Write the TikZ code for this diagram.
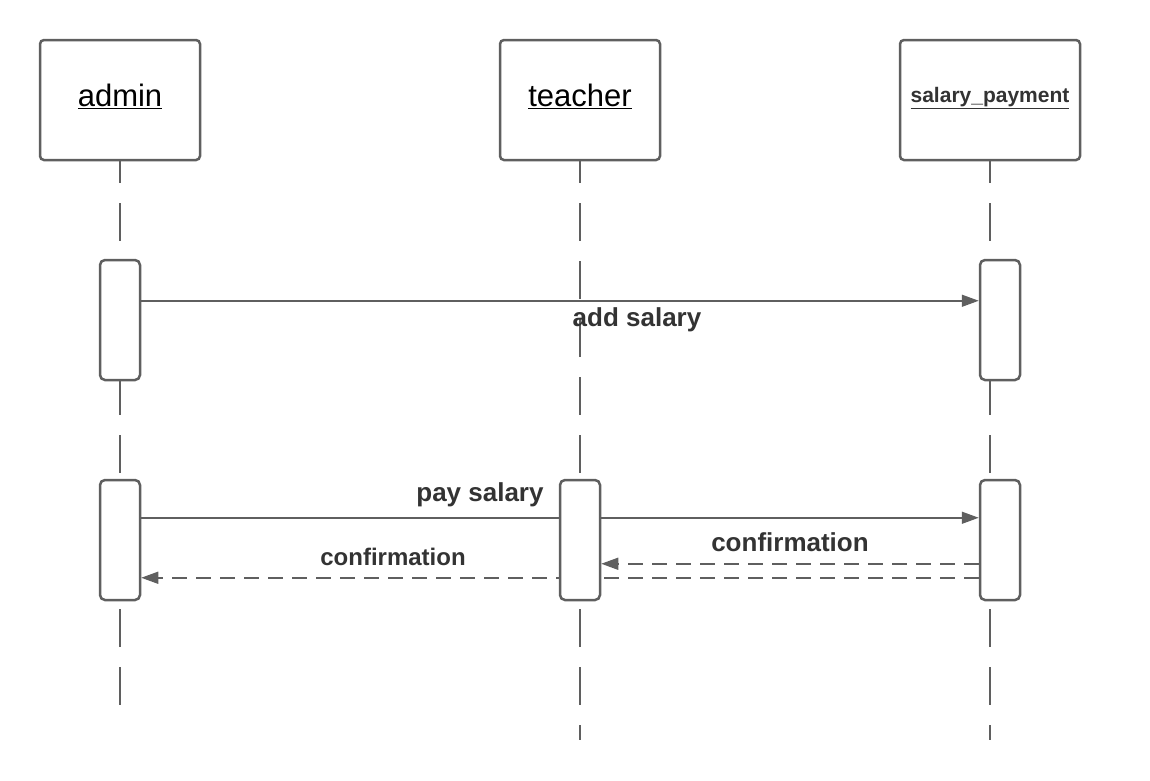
\documentclass[tikz,border=0pt]{standalone}
\usepackage{fontspec}
\setmainfont{Liberation Sans}
\usetikzlibrary{arrows.meta,calc}
\definecolor{linec}{HTML}{5F5F5F}
\definecolor{textc}{HTML}{333333}
\tikzset{
  headbox/.style={draw=linec, line width=2.5pt, rounded corners=4pt, fill=white, inner sep=0pt},
  actbox/.style={draw=linec, line width=2.5pt, rounded corners=5pt, fill=white, minimum width=40pt, minimum height=120pt, inner sep=0pt},
  lifeline/.style={draw=linec, line width=1.5pt, dash pattern=on 38pt off 20pt, dash phase=16pt},
  msg/.style={draw=linec, line width=1.5pt, -{Triangle[length=17pt,width=12pt]}},
  retmsg/.style={draw=linec, line width=1.5pt, dash pattern=on 15pt off 9pt, -{Triangle[length=17pt,width=12pt]}},
  plainmsg/.style={draw=linec, line width=1.5pt},
  lbl/.style={text=textc, font=\bfseries\fontsize{26}{30}\selectfont, inner sep=0pt},
  ttl/.style={font=\fontsize{31}{36}\selectfont, inner sep=0pt}
}
\begin{document}
\begin{tikzpicture}[x=1pt,y=-1pt]
\useasboundingbox (0,0) rectangle (1150,780);
% heads
\node[headbox, minimum width=160pt, minimum height=120pt] (admin) at (120,100) {};
\node[headbox, minimum width=160pt, minimum height=120pt] (teacher) at (580,100) {};
\node[headbox, minimum width=180pt, minimum height=120pt] (salary) at (990,100) {};
\node[ttl] (adminT) at (120,96) {\underline{admin}};
\node[ttl] (teacherT) at (580,96) {\underline{teacher}};
\node[inner sep=0pt, text=textc, font=\bfseries\fontsize{21}{24}\selectfont] (salaryT) at (990,98) {\underline{salary\_payment}};
% lifeline ends
\coordinate (adminEnd) at (120,720);
\coordinate (teacherEnd) at (580,740);
\coordinate (salaryEnd) at (990,740);
\draw[lifeline] (admin.south) -- (adminEnd);
\draw[lifeline] (teacher.south) -- (teacherEnd);
\draw[lifeline] (salary.south) -- (salaryEnd);
% activations
\node[actbox] (a1) at (120,320) {};
\node[actbox] (s1) at (1000,320) {};
\node[actbox] (a2) at (120,540) {};
\node[actbox] (s2) at (1000,540) {};
% long return message passes behind teacher activation
\draw[retmsg] ([yshift=-99pt]s2.north west) -- ([yshift=-99pt]a2.north east);
\node[actbox] (t2) at (580,540) {};
% messages
\draw[msg] ([yshift=-42pt]a1.north east) -- ([yshift=-42pt]s1.north west);
\node[lbl] (l1) at (637,320) {add salary};
\draw[plainmsg] ([yshift=-39pt]a2.north east) -- ([yshift=-39pt]t2.north west);
\draw[msg] ([yshift=-39pt]t2.north east) -- ([yshift=-39pt]s2.north west);
\node[lbl] (l2) at (480,495) {pay salary};
\draw[retmsg] ([yshift=-85pt]s2.north west) -- ([yshift=-85pt]t2.north east);
\node[lbl] (l3) at (790,542) {confirmation};
\node[lbl, font=\bfseries\fontsize{24}{28}\selectfont] (l4) at (393,557) {confirmation};
\end{tikzpicture}
\end{document}
